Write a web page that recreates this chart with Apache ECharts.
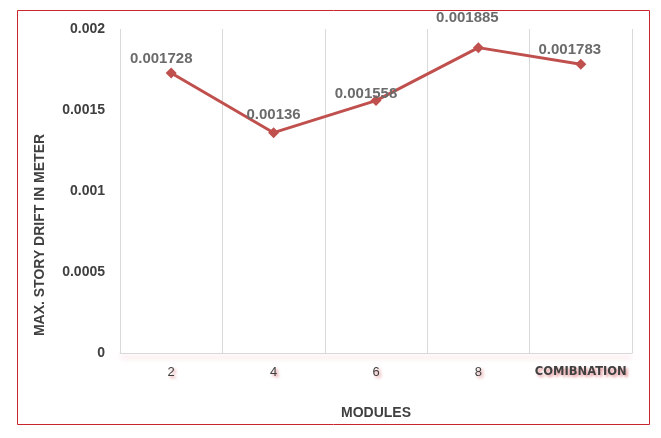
<!DOCTYPE html>
<html>
<head>
<meta charset="utf-8">
<script src="https://cdn.jsdelivr.net/npm/echarts@6/dist/echarts.min.js"></script>
<style>
html,body{margin:0;padding:0;background:#fff;}
#c{width:661px;height:438px;}
</style>
</head>
<body>
<div id="c"></div>
<script>
const categories = ['2', '4', '6', '8', 'COMIBNATION'];
const driftValues = [0.001728, 0.00136, 0.001558, 0.001885, 0.001783];
const yTicks = [0, 0.0005, 0.001, 0.0015, 0.002];

const chart = echarts.init(document.getElementById('c'));
const FONT = '"Liberation Sans", Arial, sans-serif';
const labelShift = [[-10, 0], [0, -4], [-10, 7], [-11, -16], [-11, 0]];

const option = {
  backgroundColor: '#ffffff',
  animation: false,
  grid: { left: 120, right: 29, top: 29, bottom: 85 },
  graphic: [
    {
      type: 'rect', silent: true,
      shape: { x: 17.5, y: 10.5, width: 632, height: 414 },
      style: { fill: 'none', stroke: '#c8262c', lineWidth: 1 }
    },
    {
      type: 'text', silent: true,
      x: 40, y: 235, rotation: Math.PI / 2,
      style: {
        text: 'MAX. STORY DRIFT IN METER',
        font: 'bold 14px ' + FONT,
        fill: '#404040', align: 'center', verticalAlign: 'middle'
      }
    }
  ],
  xAxis: {
    type: 'category',
    data: categories,
    boundaryGap: true,
    name: 'MODULES',
    nameLocation: 'middle',
    nameGap: 53,
    nameTextStyle: { fontFamily: FONT, fontWeight: 'bold', fontSize: 14, color: '#404040' },
    axisLine: {
      show: true,
      lineStyle: { color: '#d9d9d9', width: 1, shadowColor: 'rgba(220,80,90,0.4)', shadowBlur: 5, shadowOffsetY: 4 }
    },
    axisTick: { show: false },
    splitLine: { show: true, lineStyle: { color: '#d9d9d9', width: 1 } },
    axisLabel: {
      margin: 13,
      interval: 0,
      fontFamily: FONT,
      fontSize: 13,
      color: '#404040',
      textShadowColor: 'rgba(205,60,70,0.55)',
      textShadowBlur: 3,
      textShadowOffsetX: 2,
      textShadowOffsetY: 2,
      formatter: function (v) {
        return v.length > 2 ? '{b|' + v + '}' : v;
      },
      rich: {
        b: {
          fontFamily: '"DejaVu Sans", sans-serif', fontWeight: 'bold', fontSize: 11.5, color: '#404040',
          textShadowColor: 'rgba(205,60,70,0.55)', textShadowBlur: 3,
          textShadowOffsetX: 2, textShadowOffsetY: 2
        }
      }
    }
  },
  yAxis: {
    type: 'value',
    min: yTicks[0],
    max: yTicks[yTicks.length - 1],
    interval: yTicks[1] - yTicks[0],
    axisLine: { show: false },
    axisTick: { show: false },
    splitLine: { show: false },
    axisLabel: {
      margin: 15,
      fontFamily: FONT,
      fontWeight: 'bold',
      fontSize: 14,
      color: '#404040',
      formatter: function (v) { return String(Number(v.toPrecision(6))); }
    }
  },
  series: [{
    type: 'line',
    data: driftValues.map((v, i) => ({
      value: v,
      label: { offset: labelShift[i] }
    })),
    symbol: 'diamond',
    symbolSize: 11,
    lineStyle: { color: '#c0504d', width: 3 },
    itemStyle: { color: '#c0504d' },
    label: {
      show: true,
      position: 'top',
      distance: 1,
      fontFamily: FONT,
      fontWeight: 'bold',
      fontSize: 15,
      color: '#6b6b6b',
      formatter: function (p) { return String(p.value); }
    }
  }]
};
chart.setOption(option);
</script>
</body>
</html>
